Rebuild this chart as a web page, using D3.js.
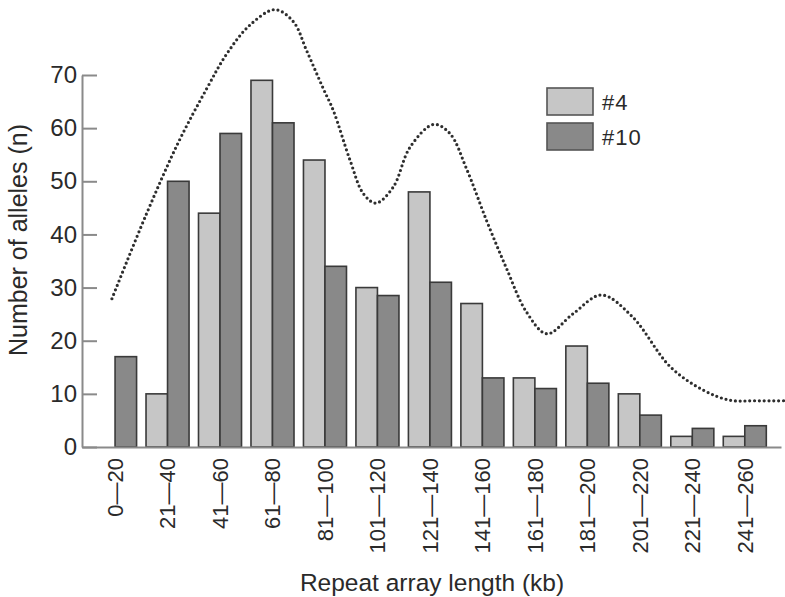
<!DOCTYPE html>
<html><head><meta charset="utf-8">
<script src="https://cdn.jsdelivr.net/npm/d3@7"></script>
<style>
body{margin:0;background:#fff;}
text{font-family:"Liberation Sans",Arial,Helvetica,sans-serif;fill:#2a2a2a;}
</style></head>
<body>
<svg id="chart" width="785" height="597"></svg>
<script>
const categories = ["0\u201420","21\u201440","41\u201460","61\u201480","81\u2014100","101\u2014120","121\u2014140","141\u2014160","161\u2014180","181\u2014200","201\u2014220","221\u2014240","241\u2014260"];
const seriesNames = ["#4","#10"];
const series4  = [0,10,44,69,54,30,48,27,13,19,10,2,2];
const series10 = [17,50,59,61,34,28.5,31,13,11,12,6,3.5,4];
const yTicks = [0,10,20,30,40,50,60,70];
// dotted smoothed curve: [category position (0 = first category), value]
const curveX = [-0.06,0.6,1.21,1.75,2.13,2.57,3.05,3.4,3.65,3.97,4.16,4.48,4.73,4.97,5.3,5.62,6.07,6.38,6.7,7.08,7.46,7.84,8.23,8.73,9.27,9.85,10.58,11.21,11.72,12.2,12.77];
const curveY = [27.9,43.9,57.4,67.5,74,79.4,82.3,80,74.6,67.4,63.3,53.9,47.7,45.9,48.9,56.4,60.7,59,52.3,42.6,33.6,25.4,21.3,25.1,28.6,24.6,15.1,10.7,8.8,8.7,8.7];

const svg = d3.select("#chart");
const axisColor = "#8a8a8a";
const x = d3.scaleBand().domain(categories).range([82,781]).paddingInner(0.18).paddingOuter(0.25).align(0.44);
const xs = d3.scaleBand().domain(seriesNames).range([0,x.bandwidth()]).padding(0);
const y = d3.scaleLinear().domain([0,70]).range([447,75]);
const xc = d3.scaleLinear().domain([0,categories.length-1])
  .range([x(categories[0])+x.bandwidth()/2, x(categories[categories.length-1])+x.bandwidth()/2]);

const fills = {"#4":"#c6c6c6","#10":"#898989"};

// bars
const data = categories.map((c,i)=>({c, vals:[{s:"#4",v:series4[i]},{s:"#10",v:series10[i]}]}));
const g = svg.append("g");
g.selectAll("g.grp").data(data).join("g").attr("class","grp")
  .attr("transform",d=>`translate(${x(d.c)},0)`)
  .selectAll("rect").data(d=>d.vals.filter(v=>v.v>0)).join("rect")
  .attr("x",d=>xs(d.s)).attr("width",xs.bandwidth())
  .attr("y",d=>y(d.v)).attr("height",d=>y(0)-y(d.v))
  .attr("fill",d=>fills[d.s]).attr("stroke","#3a3a3a").attr("stroke-width",1.6);

// y axis
const yAxis = svg.append("g").attr("transform","translate(82,0)")
  .call(d3.axisLeft(y).tickValues(yTicks).tickSizeInner(-15).tickSizeOuter(0).tickPadding(5));
yAxis.attr("font-family",null);
yAxis.select(".domain").attr("stroke",axisColor).attr("stroke-width",2);
yAxis.selectAll(".tick line").attr("stroke",axisColor).attr("stroke-width",2);
yAxis.selectAll(".tick text").attr("font-size",24).attr("fill","#2a2a2a");

// x axis
const xAxis = svg.append("g").attr("transform","translate(0,447)")
  .call(d3.axisBottom(x).tickSize(0).tickPadding(0));
xAxis.attr("font-family",null);
xAxis.select(".domain").attr("stroke",axisColor).attr("stroke-width",2);
xAxis.selectAll(".tick text").attr("font-size",22).attr("fill","#2a2a2a")
  .attr("transform","rotate(-90)").attr("x",-11).attr("y",0).attr("dy","0.36em")
  .attr("text-anchor","end");

// dotted curve
const pts = curveX.map((v,i)=>[xc(v), y(curveY[i])]);
svg.append("path").attr("d",d3.line().curve(d3.curveCatmullRom.alpha(0.5))(pts))
  .attr("fill","none").attr("stroke","#2e2e2e").attr("stroke-width",3.2)
  .attr("stroke-linecap","round").attr("stroke-dasharray","0,4.8");

// legend
const leg = svg.append("g").attr("transform","translate(547,88)");
seriesNames.forEach((s,i)=>{
  leg.append("rect").attr("x",0).attr("y",i*35).attr("width",46).attr("height",27)
    .attr("fill",fills[s]).attr("stroke","#555").attr("stroke-width",1.6);
  leg.append("text").attr("x",55).attr("y",i*35+14).attr("dy","0.36em")
    .attr("font-size",22).attr("letter-spacing",1).text(s);
});

// titles
svg.append("text").attr("x",432).attr("y",591).attr("text-anchor","middle")
  .attr("font-size",24.5).text("Repeat array length (kb)");
svg.append("text").attr("transform","translate(27,240) rotate(-90)")
  .attr("text-anchor","middle").attr("font-size",25).text("Number of alleles (n)");
</script>
</body></html>
